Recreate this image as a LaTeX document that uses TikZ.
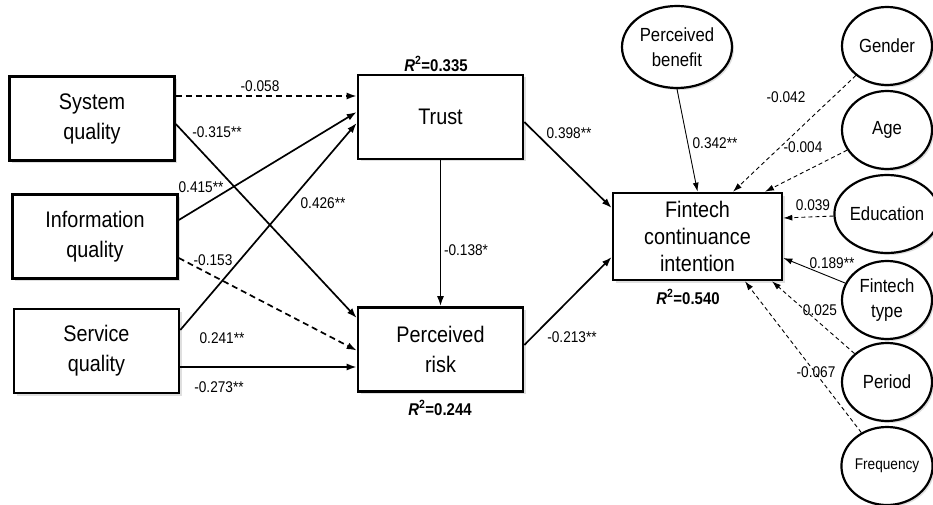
\documentclass[tikz,border=0pt]{standalone}
\usepackage{fontspec}
\setmainfont{Liberation Sans}[FakeStretch=0.88]
\usetikzlibrary{arrows.meta,shapes.geometric,shadows}
\begin{document}
\begin{tikzpicture}[x=1pt,y=-1pt,
  construct/.style={draw,line width=2.6pt,fill=white,rectangle,align=center,
    minimum width=165pt,minimum height=84pt,inner sep=0pt,
    font=\fontsize{22.5}{30}\selectfont,
    drop shadow={opacity=0.25,shadow xshift=2.5pt,shadow yshift=-2.5pt}},
  control/.style={draw,line width=2.2pt,fill=white,ellipse,align=center,
    minimum width=90pt,minimum height=78pt,inner sep=0pt,
    font=\fontsize{19}{25}\selectfont,
    drop shadow={opacity=0.25,shadow xshift=2pt,shadow yshift=-2pt}},
  path/.style={line width=1.7pt,-{Latex[length=10pt,width=7pt]}},
  npath/.style={path,dash pattern=on 6pt off 4pt},
  thin/.style={line width=0.9pt,-{Latex[length=9pt,width=6pt]}},
  nthin/.style={thin,dash pattern=on 4pt off 3pt},
  coef/.style={font=\fontsize{15.5}{17}\selectfont,inner sep=1pt},
  rsq/.style={font=\fontsize{17}{19}\selectfont\bfseries,inner sep=1pt}]
\useasboundingbox (0,0) rectangle (933,505);

% constructs of the structural model
\node[construct] (sq)  at (92,118.5) {System\\quality};
\node[construct] (iq)  at (95,236.5) {Information\\quality};
\node[construct] (svq) at (96.5,351) {Service\\quality};
\node[construct] (tr)  at (440.5,117) {Trust};
\node[construct] (pr)  at (440.5,349.5) {Perceived\\risk};
\node[construct,minimum width=169pt,minimum height=87pt,
      font=\fontsize{22.5}{27}\selectfont] (fci) at (697.5,236.5) {Fintech\\continuance\\intention};

% perceived benefit and control variables
\node[control,minimum width=110pt,minimum height=82pt] (pb) at (677,47) {Perceived\\benefit};
\node[control] (gen) at (887,46)  {Gender};
\node[control] (age) at (887,130) {Age};
\node[control] (edu) at (887,214) {Education};
\node[control] (fty) at (887,300) {Fintech\\type};
\node[control] (per) at (887,382) {Period};
\node[control,font=\fontsize{15.5}{18}\selectfont] (frq) at (887,466) {Frequency};

% explained variance
\node[rsq] (r1) at (436,64)  {\textit{R}\textsuperscript{\normalfont\bfseries 2}=0.335};
\node[rsq] (r2) at (440,408) {\textit{R}\textsuperscript{\normalfont\bfseries 2}=0.244};
\node[rsq] (r3) at (688,297) {\textit{R}\textsuperscript{\normalfont\bfseries 2}=0.540};

% quality dimensions to trust and risk
\draw[npath] ([yshift=22.5pt]sq.east) -- ([yshift=21pt]tr.west);
\draw[path]  ([yshift=-5.5pt]sq.east) -- ([yshift=31.5pt]pr.west);
\draw[path]  ([yshift=16.5pt]iq.east) -- ([yshift=5pt]tr.west);
\draw[npath] ([yshift=-21.5pt]iq.east) -- ([yshift=-1pt]pr.west);
\draw[path]  ([yshift=21pt]svq.east) -- ([yshift=-6pt]tr.west);
\draw[path]  ([yshift=-16pt]svq.east) -- ([yshift=-17.5pt]pr.west);
\draw[path]  (tr.south) -- (pr.north);

% trust and risk to continuance intention
\draw[path] ([yshift=-5pt]tr.east) -- ([yshift=28.5pt]fci.west);
\draw[path] ([yshift=4.5pt]pr.east) -- ([yshift=-20.5pt]fci.west);
\draw[thin] (pb.south) -- (fci.north);

% control variables
\draw[nthin] (gen) -- ([xshift=35.5pt]fci.north);
\draw[nthin] (age) -- ([xshift=67.5pt]fci.north);
\draw[nthin] (edu) -- ([yshift=18.5pt]fci.east);
\draw[thin]  (fty) -- ([yshift=-21.5pt]fci.east);
\draw[nthin] (per) -- ([xshift=74.5pt]fci.south);
\draw[nthin] (frq) -- ([xshift=47.5pt]fci.south);

% path coefficients
\node[coef] (c1)  at (260,86)  {-0.058};
\node[coef] (c2)  at (217,132) {-0.315**};
\node[coef] (c3)  at (201,187) {0.415**};
\node[coef] (c4)  at (323,203) {0.426**};
\node[coef] (c5)  at (213,260) {-0.153};
\node[coef] (c6)  at (222,338) {0.241**};
\node[coef] (c7)  at (219,387) {-0.273**};
\node[coef] (c8)  at (466,250) {-0.138*};
\node[coef] (c9)  at (569,133) {0.398**};
\node[coef] (c10) at (572,337) {-0.213**};
\node[coef] (c11) at (715,143) {0.342**};
\node[coef] (c12) at (786,97)  {-0.042};
\node[coef] (c13) at (803,147) {-0.004};
\node[coef] (c14) at (813,205) {0.039};
\node[coef] (c15) at (832,263) {0.189**};
\node[coef] (c16) at (820,310) {0.025};
\node[coef] (c17) at (816,372) {-0.067};
\end{tikzpicture}
\end{document}
